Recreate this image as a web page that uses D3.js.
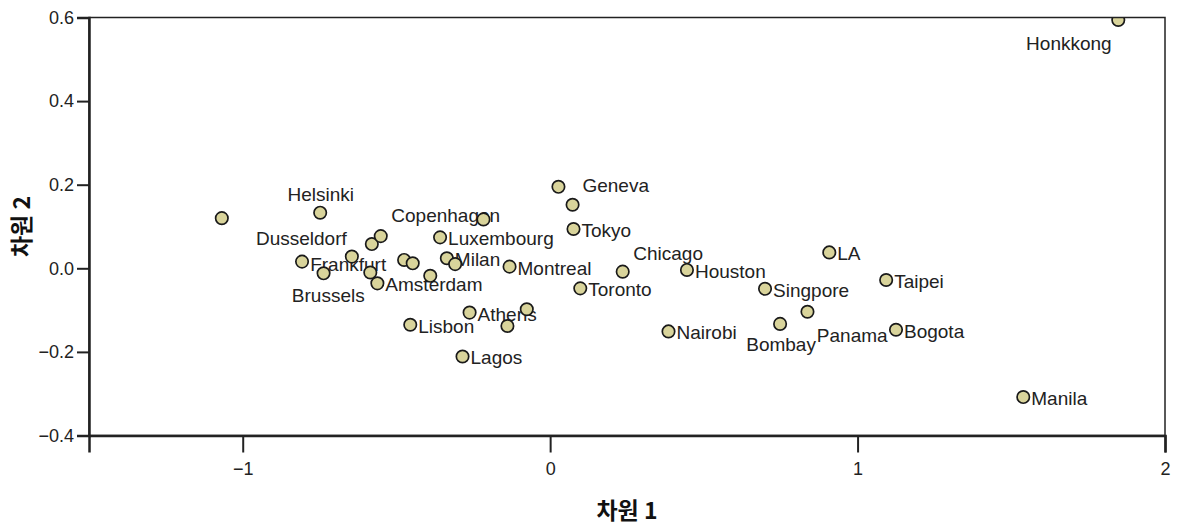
<!DOCTYPE html>
<html>
<head>
<meta charset="utf-8">
<script src="https://cdn.jsdelivr.net/npm/d3@7"></script>
<style>
  body { margin: 0; background: #fff; }
  text { font-family: "Liberation Sans", Arial, sans-serif; fill: #222; }
</style>
</head>
<body>
<div class="chart"></div>
<script>
// MDS configuration of cities (dimension 1, dimension 2)
var cities = ['', 'Helsinki', 'Dusseldorf', 'Brussels', 'Frankfurt', '', '', '',
  'Amsterdam', '', '', '', 'Luxembourg', 'Milan', '', 'Copenhagen', 'Montreal',
  'Athens', '', '', 'Lisbon', 'Lagos', 'Geneva', '', 'Tokyo', 'Toronto', 'Chicago',
  'Houston', 'Nairobi', 'LA', 'Singpore', 'Panama', 'Bombay', 'Taipei', 'Bogota',
  'Honkkong', 'Manila'];
var dim1 = [-1.068, -0.748, -0.807, -0.737, -0.645, -0.580, -0.551, -0.585,
  -0.562, -0.475, -0.447, -0.390, -0.358, -0.336, -0.309, -0.217, -0.132,
  -0.262, -0.076, -0.139, -0.455, -0.285, 0.027, 0.073, 0.076, 0.098, 0.236,
  0.445, 0.385, 0.908, 0.699, 0.837, 0.748, 1.093, 1.125, 1.848, 1.539];
var dim2 = [0.120, 0.133, 0.016, -0.012, 0.028, 0.058, 0.077, -0.010,
  -0.036, 0.020, 0.012, -0.018, 0.074, 0.024, 0.010, 0.117, 0.004,
  -0.106, -0.098, -0.138, -0.135, -0.211, 0.195, 0.152, 0.094, -0.048, -0.008,
  -0.004, -0.151, 0.038, -0.049, -0.104, -0.133, -0.028, -0.147, 0.594, -0.308];
var xTicks = [-1, 0, 1, 2];
var yTicks = [0.6, 0.4, 0.2, 0.0, -0.2, -0.4];

// label placement (dx, dy from point, anchor); default is right of the point
var labelPlace = {
  Helsinki: [0.5, -12, 'middle'],
  Dusseldorf: [-0.7, -16.7, 'middle'],
  Brussels: [4.7, 28.4, 'middle'],
  Frankfurt: [-41.7, 14, 'start'],
  Copenhagen: [16.7, 2.4, 'end'],
  Geneva: [24, 5.6, 'start'],
  Chicago: [10.6, -11.7, 'start'],
  Panama: [9.4, 30, 'start'],
  Bombay: [1, 27, 'middle'],
  Honkkong: [-6.6, 30, 'end']
};

var W = 1178, H = 525;
var margin = { top: 17.5, right: 13, bottom: 89.5, left: 89 };
var width = W - margin.left - margin.right;
var height = H - margin.top - margin.bottom;

var data = cities.map((c, i) => ({ name: c, x: dim1[i], y: dim2[i] }));

var svg = d3.select('.chart')
  .append('svg')
    .attr('width', W)
    .attr('height', H)
  .append('g')
    .attr('transform', 'translate(' + margin.left + ', ' + margin.top + ')');

var xScale = d3.scaleLinear().domain([-1.5, 2]).range([0, width]);
var yScale = d3.scaleLinear().domain([-0.4, 0.6]).range([height, 0]);

svg.append('clipPath').attr('id', 'plot')
  .append('rect').attr('width', width).attr('height', height);

// labels first, markers drawn over them
svg.append('g')
  .selectAll('text')
  .data(data.filter(d => d.name))
  .enter().append('text')
    .attr('x', d => xScale(d.x) + (labelPlace[d.name] ? labelPlace[d.name][0] : 8))
    .attr('y', d => yScale(d.y) + (labelPlace[d.name] ? labelPlace[d.name][1] : 8))
    .attr('text-anchor', d => labelPlace[d.name] ? labelPlace[d.name][2] : 'start')
    .style('font-size', '19px')
    .text(d => d.name);

svg.append('g')
    .attr('clip-path', 'url(#plot)')
  .selectAll('circle')
  .data(data)
  .enter().append('circle')
    .attr('cx', d => xScale(d.x))
    .attr('cy', d => yScale(d.y))
    .attr('r', 6.2)
    .style('fill', '#d9d49b')
    .style('stroke', '#1a1a1a')
    .style('stroke-width', 1.7);

// frame
svg.append('rect')
  .attr('width', width)
  .attr('height', height)
  .style('fill', 'none')
  .style('stroke', '#222')
  .style('stroke-width', 1.5);

var xAxis = svg.append('g')
  .attr('transform', `translate(0, ${height})`)
  .call(d3.axisBottom(xScale).tickValues(xTicks).tickSize(17).tickPadding(10).tickFormat(d3.format('d')));
var yAxis = svg.append('g')
  .call(d3.axisLeft(yScale).tickValues(yTicks).tickSize(12).tickPadding(3).tickFormat(d3.format('.1f')));

[xAxis, yAxis].forEach(function (ax) {
  ax.select('.domain').style('stroke', '#222').style('stroke-width', 2.5);
  ax.selectAll('.tick line').style('stroke', '#222').style('stroke-width', 2);
  ax.selectAll('.tick text')
    .style('font-family', '"Liberation Sans", Arial, sans-serif')
    .style('font-size', '18px')
    .style('fill', '#222');
});
yAxis.selectAll('.tick text').text(d => d3.format('.1f')(d).replace('-', '\u2212'));

svg.append('text')
  .attr('x', xScale(0.25))
  .attr('y', height + 83)
  .attr('text-anchor', 'middle')
  .style('font-family', '"Noto Sans CJK KR", sans-serif')
  .style('font-weight', 'bold')
  .style('font-size', '23px')
  .style('fill', '#111')
  .text('차원 1');

svg.append('text')
  .attr('transform', `translate(${-59}, ${height / 2}) rotate(-90)`)
  .attr('text-anchor', 'middle')
  .style('font-family', '"Noto Sans CJK KR", sans-serif')
  .style('font-weight', 'bold')
  .style('font-size', '23px')
  .style('fill', '#111')
  .text('차원 2');
</script>
</body>
</html>
